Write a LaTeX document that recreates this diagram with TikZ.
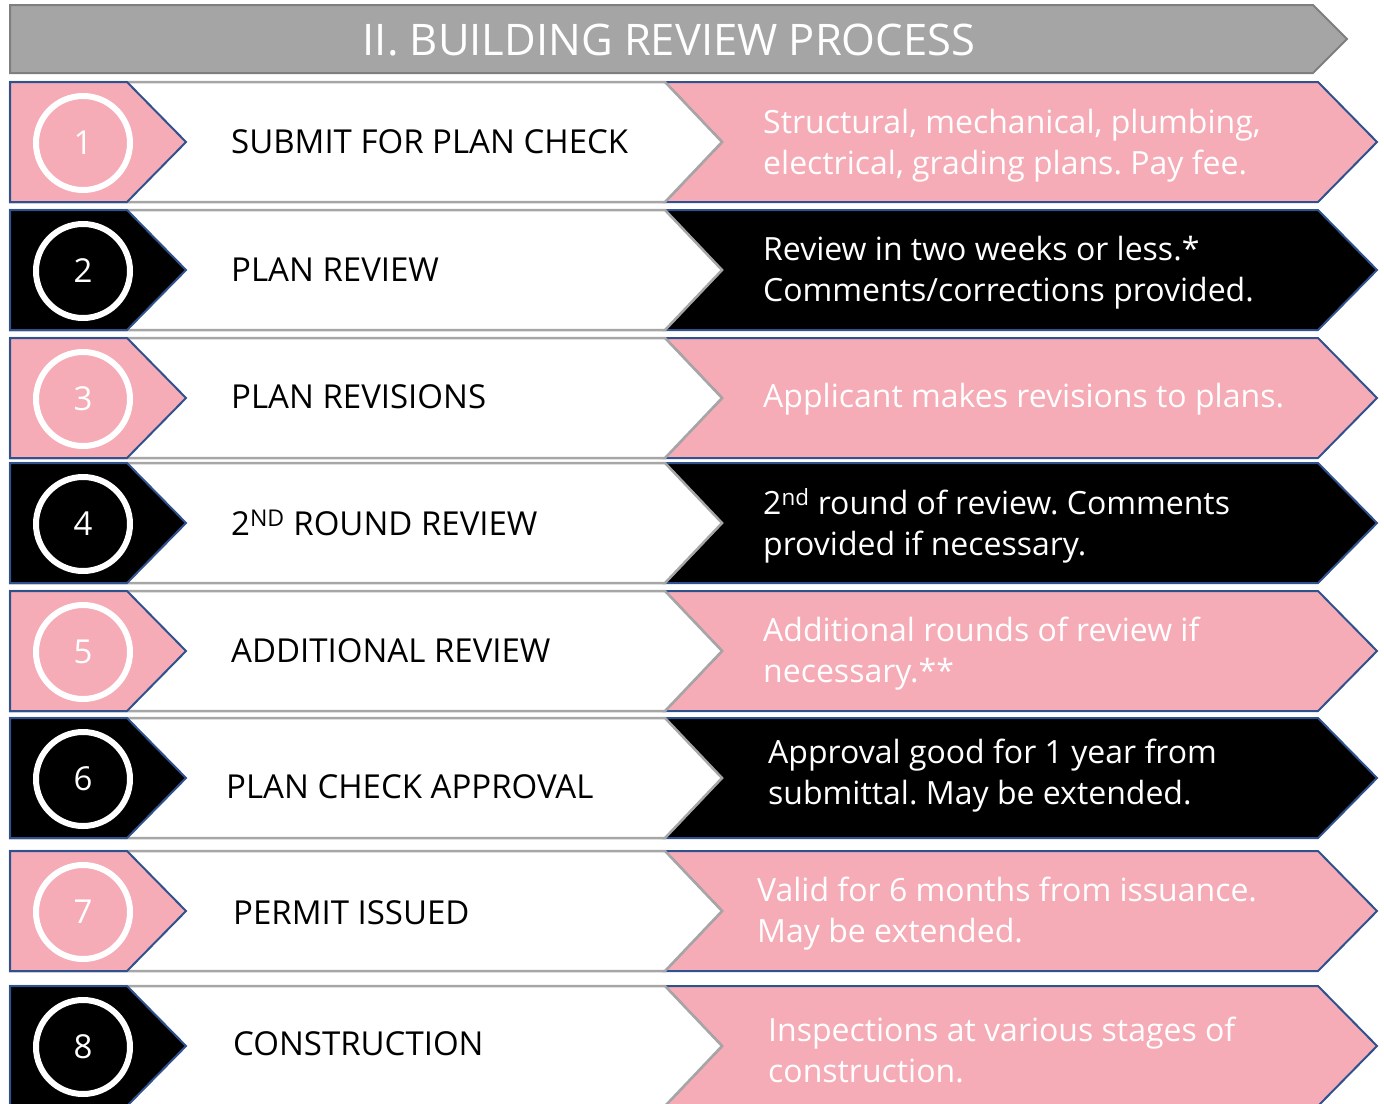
\documentclass[tikz,border=0pt]{standalone}
\usepackage{fontspec}
\setmainfont{Open Sans}
\frenchspacing
\definecolor{stepPink}{HTML}{F5ACB7}
\definecolor{stepBlue}{HTML}{2F528F}
\definecolor{boxGray}{HTML}{A6A6A6}
\definecolor{headGray}{HTML}{A5A5A5}
\definecolor{headEdge}{HTML}{7F7F7F}

\begin{document}
\begin{tikzpicture}[x=1pt, y=-1pt,
        title/.style={text=white, font=\fontsize{43.5}{50}\selectfont},
        numtext/.style={circle, draw=white, line width=6, minimum size=94,
            text=white, font=\fontsize{33}{40}\selectfont},
        steptext/.style={anchor=west, inner sep=0, font=\fontsize{33}{40}\selectfont},
        notetext/.style={anchor=west, align=left, inner sep=0, text=white,
            font=\fontsize{32}{41}\selectfont}]
        \useasboundingbox (0,0) rectangle (1384,1103);

        % banner
        \draw[headEdge, fill=headGray, line width=2]
            (10,5) -- (1313,5) -- (1347,39) -- (1313,73) -- (10,73) -- cycle;
        \node[title] (title) at (669,40) {II. BUILDING REVIEW PROCESS};

        % rows: number / top / left colour / right colour
        \foreach \n/\t/\lc/\rc in {1/82/stepPink/stepPink, 2/210/black/black,
                3/338/stepPink/stepPink, 4/463/black/black, 5/591/stepPink/stepPink,
                6/718/black/black, 7/851/stepPink/stepPink, 8/986/black/stepPink}
        {
            \pgfmathsetmacro\c{\t+60}
            \pgfmathsetmacro\b{\t+120}
            \draw[stepBlue, line width=2, fill=\rc]
                (665,\t) -- (1318,\t) -- (1377,\c) -- (1318,\b) -- (665,\b) -- (722,\c) -- cycle;
            \draw[boxGray, line width=2.5, fill=white]
                (10,\t) -- (665,\t) -- (722,\c) -- (665,\b) -- (10,\b) -- cycle;
            \draw[stepBlue, line width=2, fill=\lc]
                (10,\t) -- (127,\t) -- (186,\c) -- (127,\b) -- (10,\b) -- cycle;
            \node[numtext] (num\n) at (83,\c+1) {\n};
        }

        \node[steptext] (step1) at (231,142) {SUBMIT FOR PLAN CHECK};
        \node[steptext] (step2) at (231,270) {PLAN REVIEW};
        \node[steptext] (step3) at (231,397) {PLAN REVISIONS};
        \node[steptext] (step4) at (231,523) {2\textsuperscript{ND} ROUND REVIEW};
        \node[steptext] (step5) at (231,651) {ADDITIONAL REVIEW};
        \node[steptext] (step6) at (226,787) {PLAN CHECK APPROVAL};
        \node[steptext] (step7) at (233,913) {PERMIT ISSUED};
        \node[steptext] (step8) at (233,1044) {CONSTRUCTION};

        \node[notetext] (note1) at (763,146) {Structural, mechanical, plumbing,\\electrical, grading plans. Pay fee.};
        \node[notetext] (note2) at (763,273) {Review in two weeks or less.*\\Comments/corrections provided.};
        \node[notetext] (note3) at (763,399) {Applicant makes revisions to plans.};
        \node[notetext] (note4) at (763,526) {2\textsuperscript{nd} round of review. Comments\\provided if necessary.};
        \node[notetext] (note5) at (763,654) {Additional rounds of review if\\necessary.**};
        \node[notetext] (note6) at (768,776) {Approval good for 1 year from\\submittal. May be extended.};
        \node[notetext] (note7) at (757,914) {Valid for 6 months from issuance.\\May be extended.};
        \node[notetext] (note8) at (768,1050) {Inspections at various stages of\\construction.};
\end{tikzpicture}
\end{document}
